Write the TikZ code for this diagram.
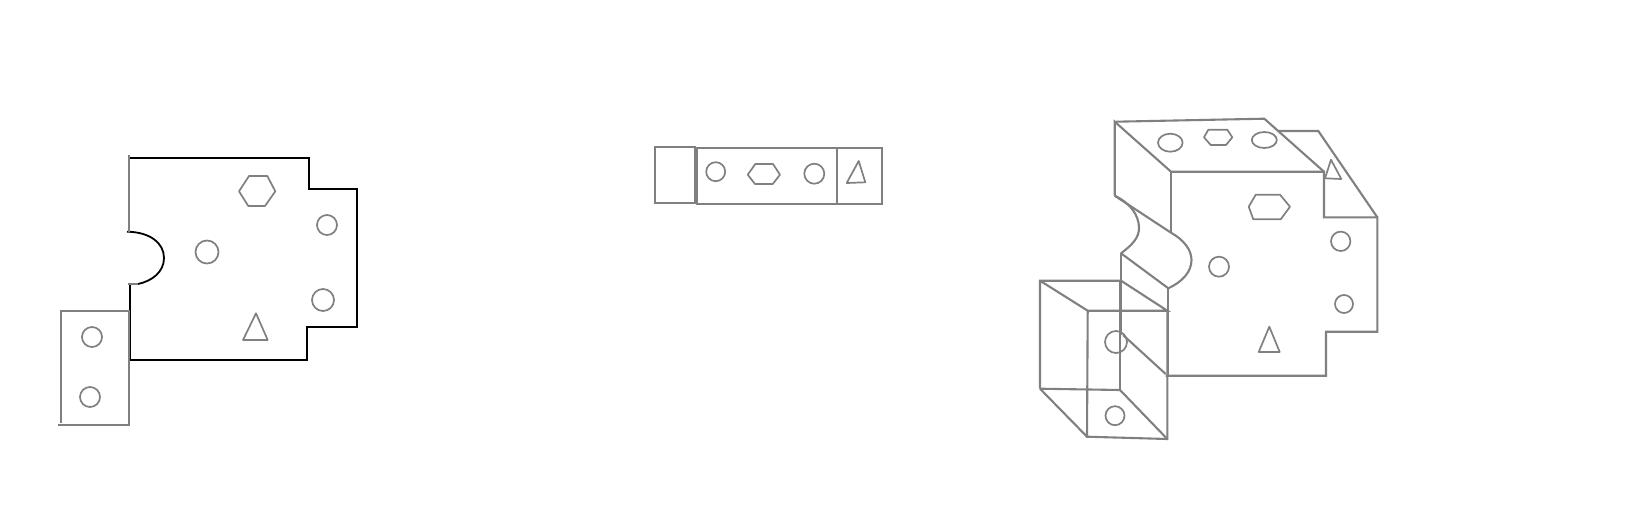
\documentclass[tikz,border=0pt]{standalone}
\tikzset{
  ln/.style={draw=grayln,line width=2.1pt,line join=miter},
  blk/.style={draw=black,line width=2.1pt,line join=miter},
  hole/.style={draw=grayln,line width=1.7pt,line join=round},
}
\definecolor{grayln}{RGB}{128,128,128}
\begin{document}
\begin{tikzpicture}[x=1pt,y=-1pt]
\useasboundingbox[fill=white] (0,0) rectangle (1640,520);
% --- left view
\draw[blk] (129,158) -- (309,158) -- (309,189) -- (357,189) -- (357,327) -- (307,327) -- (307,360) -- (130,360) -- (130,284);
\draw[blk,line width=1.8pt] (127,231.7) .. controls (150,232) and (164,243) .. (164,258) .. controls (164,272) and (152,281) .. (138,284);
\draw[ln] (129,155) -- (129,232);
\draw[ln] (128,284) -- (138,284);
\draw[ln] (61,423) -- (61,311) -- (129,311) -- (129,425) -- (58,425);
\draw[hole] (92,337) circle (10);
\draw[hole] (90,397) circle (10);
\draw[hole] (207,252) circle (11.5);
\draw[hole] (327,225) circle (10);
\draw[hole] (323,300) circle (11);
\draw[hole] (239,191.3) -- (249,176) -- (267.3,176) -- (275.3,191.3) -- (265,206) -- (248.3,206) -- cycle;
\draw[hole] (256,313.3) -- (243,340) -- (267.7,340) -- cycle;
% --- middle view
\draw[ln] (654.7,146.7) rectangle (695,202.7);
\draw[ln] (696.7,148) rectangle (882.3,203.7);
\draw[ln] (837,148) -- (837,203.7);
\draw[hole] (715.7,171.7) circle (9.5);
\draw[hole] (814.3,173.7) circle (10);
\draw[hole] (747.7,174.7) -- (755.3,164) -- (773,164) -- (780,174.7) -- (772.7,184) -- (755,184) -- cycle;
\draw[hole] (858.7,161) -- (846.7,183) -- (865.3,182.3) -- cycle;
% --- right view
\draw[ln] (1114.7,195.7) -- (1114.7,121.7) -- (1171,171.7) -- (1324,171.7) -- (1324,217.3) -- (1377.3,217.3) -- (1377.3,331.7) -- (1326,331.7) -- (1326,375.7) -- (1165.7,375.7);
\draw[ln] (1116,121.7) -- (1264.3,118.7) -- (1324,171.7);
\draw[ln] (1278.3,131) -- (1318.3,131) -- (1377.3,217.3);
\draw[ln] (1171,171.7) -- (1171,232.7);
\draw[ln] (1114.7,195.7) -- (1171,232.7);
\draw[ln] (1171,232.7) .. controls (1184,240) and (1191.5,250) .. (1191.5,260) .. controls (1191.5,272) and (1182,282) .. (1168.3,288.3);
\draw[ln] (1114.7,195.7) .. controls (1130,203) and (1139,215) .. (1139,228) .. controls (1139,238) and (1132,245) .. (1121,253.3);
\draw[ln] (1121,253.3) -- (1168.3,288.3);
\draw[ln] (1121,253.3) -- (1121,280.7);
\draw[ln] (1168,288) -- (1168,310.7);
\draw[ln] (1040,388.7) -- (1040,280.7) -- (1121,280.7) -- (1167.3,310.7) -- (1087.7,310.7) -- (1040,280.7);
\draw[ln] (1087.7,310.7) -- (1087,436.7) -- (1167.3,439) -- (1167.3,310.7);
\draw[ln] (1168.3,311.5) -- (1168.3,375);
\draw[ln] (1040,388.7) -- (1120,390) -- (1167.3,439);
\draw[ln] (1040,388.7) -- (1087,436.7);
\draw[ln] (1120,280.7) -- (1120,390);
\draw[ln] (1121,280.7) -- (1121,335);
\draw[ln] (1123,335) -- (1165.7,374);
\draw[hole] (1116,342) circle (11);
\draw[hole] (1115,415.7) circle (9.5);
\draw[hole] (1219,266.7) circle (10);
\draw[hole] (1340.7,241.3) circle (9.7);
\draw[hole] (1344,304) circle (9);
\draw[hole] (1170.3,142.7) ellipse (12.3 and 9);
\draw[hole] (1264.3,140) ellipse (12.5 and 8);
\draw[hole] (1204,137.3) -- (1208.3,129.7) -- (1227.3,129.7) -- (1232.3,137.3) -- (1226,145) -- (1210.7,145) -- cycle;
\draw[hole] (1248.7,206.7) -- (1255.7,194.7) -- (1280,194.7) -- (1290,206.7) -- (1280.7,219.3) -- (1253.3,219.3) -- cycle;
\draw[hole] (1331,159.7) -- (1325,178.3) -- (1341.3,179) -- cycle;
\draw[hole] (1269.3,326.7) -- (1258.7,352) -- (1279.7,352) -- cycle;
\end{tikzpicture}
\end{document}
